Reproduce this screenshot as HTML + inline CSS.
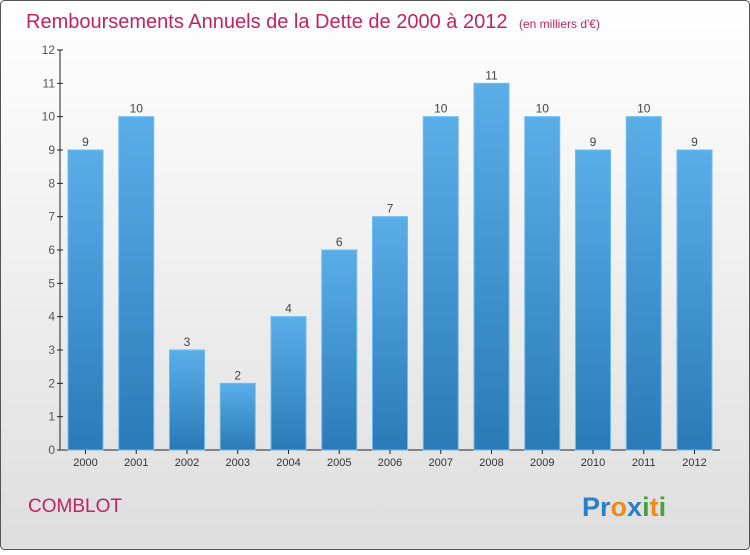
<!DOCTYPE html>
<html><head><meta charset="utf-8"><style>
body{margin:0;width:750px;height:550px;overflow:hidden;font-family:"Liberation Sans",sans-serif}
</style></head><body>
<svg width="750" height="550" xmlns="http://www.w3.org/2000/svg">
<defs>
<linearGradient id="bg" x1="0" y1="0" x2="0" y2="1"><stop offset="0" stop-color="#ffffff"/><stop offset="1" stop-color="#dedede"/></linearGradient>
<linearGradient id="bar" x1="0" y1="0" x2="0" y2="1"><stop offset="0" stop-color="#5aaee8"/><stop offset="1" stop-color="#2a7ab8"/></linearGradient>
</defs>
<rect x="0.5" y="0.5" width="749" height="549" rx="4" fill="url(#bg)" stroke="#555"/>
<text x="26" y="28" font-size="20" fill="#c0245c">Remboursements Annuels de la Dette de 2000 à 2012 <tspan font-size="12" dx="6">(en milliers d'€)</tspan></text>
<g id="plot"></g>
<text x="28" y="512" font-size="19" fill="#c0245c">COMBLOT</text>
<text x="582" y="516" font-size="27" font-weight="bold"><tspan fill="#2a7fc8">Pr</tspan><tspan fill="#f08a1a">o</tspan><tspan fill="#2a7fc8">x</tspan><tspan fill="#4aa040">i</tspan><tspan fill="#f08a1a">t</tspan><tspan fill="#4aa040">i</tspan></text>
</svg>
<script>
const categories=["2000","2001","2002","2003","2004","2005","2006","2007","2008","2009","2010","2011","2012"];
const values=[9,10,3,2,4,6,7,10,11,10,9,10,9];
const yTicks=[0,1,2,3,4,5,6,7,8,9,10,11,12];
const NS="http://www.w3.org/2000/svg";
const g=document.getElementById("plot");
const y0=450,yTop=50,yMax=12;
const y=v=>y0-(v/yMax)*(y0-yTop);
const x=i=>85.5+i*50.75;
function mk(t,a,txt){const e=document.createElementNS(NS,t);for(const k in a)e.setAttribute(k,a[k]);if(txt!==undefined)e.textContent=txt;g.appendChild(e);return e;}
let ax=mk("line",{x1:60,y1:yTop,x2:60,y2:y0,stroke:"#222"});


let bx=mk("line",{x1:60,y1:y0,x2:720,y2:y0,stroke:"#222"});


yTicks.forEach(v=>{
 let t=mk("line",{x1:57,y1:y(v),x2:63,y2:y(v),stroke:"#222"});
 
 
 let l=mk("text",{x:55,y:y(v)+4,"font-size":12,"text-anchor":"end",fill:"#555"},v);
 
 
});
categories.forEach((c,i)=>{
 let r=mk("rect",{x:x(i)-17.5,y:y(values[i]),width:35,height:y0-y(values[i]),fill:"url(#bar)",stroke:"#6cbcf0","stroke-width":1});
 
 
 let v=mk("text",{x:x(i),y:y(values[i])-4,"font-size":12,"text-anchor":"middle",fill:"#444"},values[i]);
 
 
 let t=mk("line",{x1:x(i),y1:y0,x2:x(i),y2:y0+4,stroke:"#222"});
 
 
 let l=mk("text",{x:x(i),y:y0+16,"font-size":11,"text-anchor":"middle",fill:"#333"},c);
 
 
});
</script>
</body></html>
